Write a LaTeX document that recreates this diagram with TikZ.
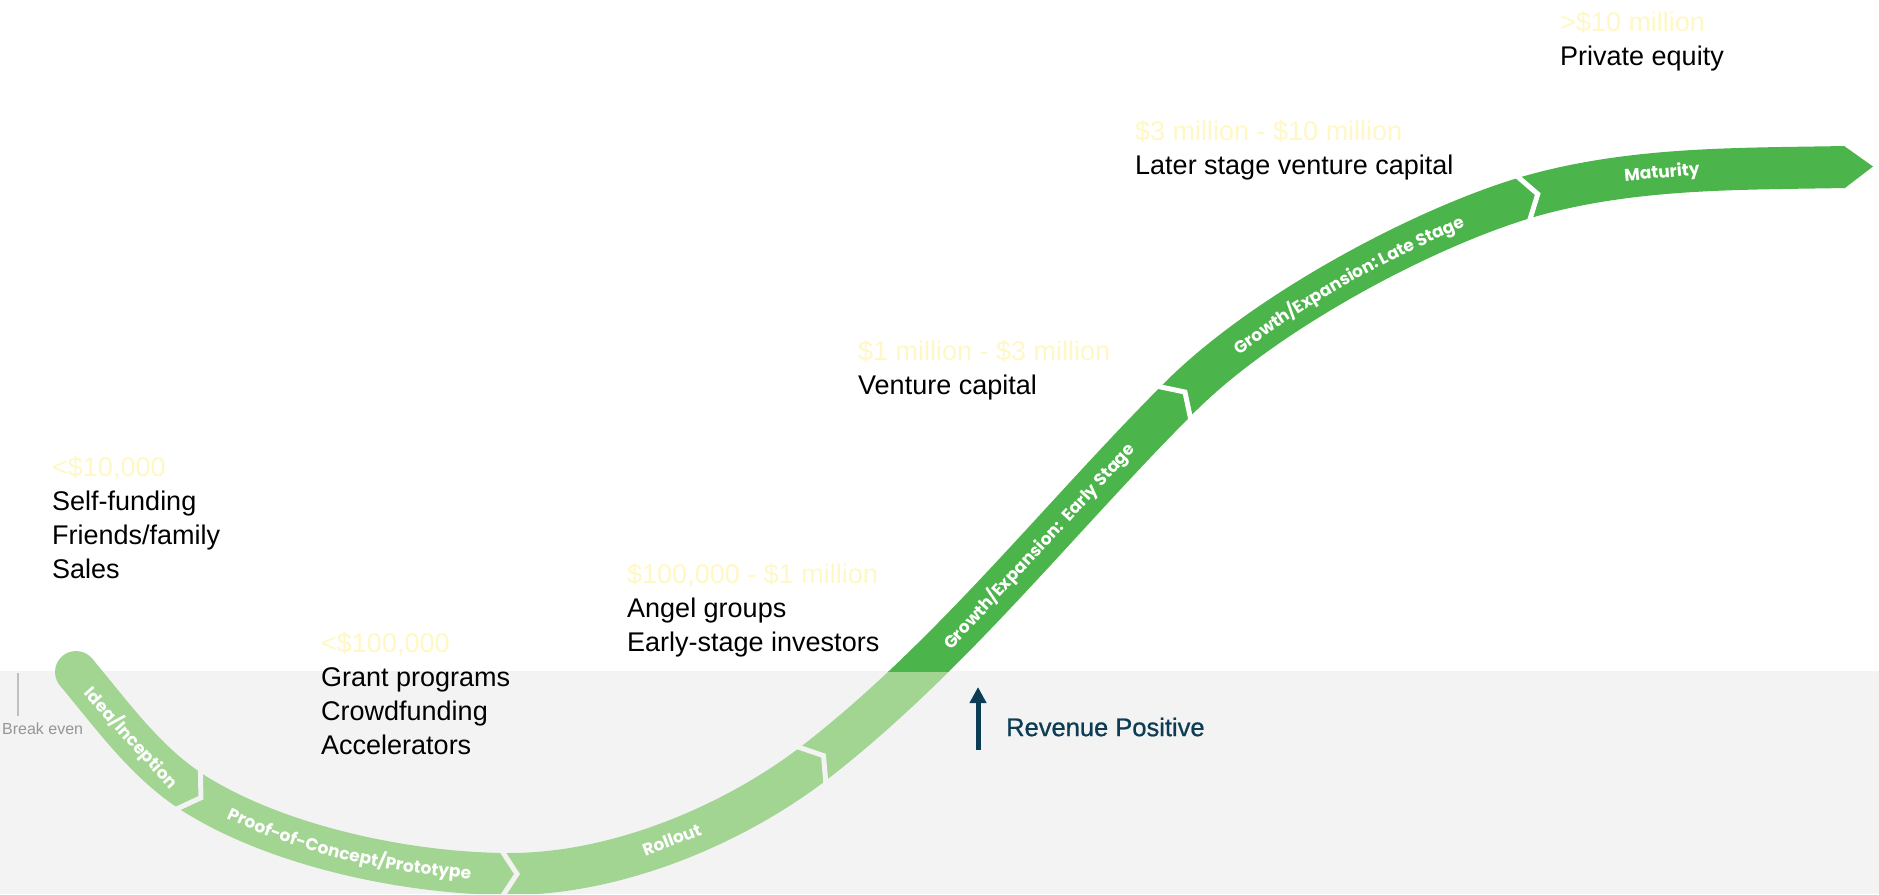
\documentclass[tikz,border=0pt]{standalone}
\usepackage{fontspec}
\setmainfont{Liberation Sans}
\newfontfamily\stagefont{Poppins}
\newfontfamily\rpfont{Liberation Sans}[FakeBold=0.8]
\usetikzlibrary{arrows.meta,decorations.text}
\definecolor{dkgreen}{RGB}{75,180,74}
\definecolor{ltgreen}{RGB}{162,212,146}
\definecolor{bandgray}{RGB}{243,243,243}
\definecolor{amount}{RGB}{255,248,196}
\definecolor{teal}{RGB}{12,61,84}
\definecolor{bkgray}{RGB}{150,150,150}
\tikzset{
  ribbonline/.style={line width=42pt},
  gapline/.style={line width=5pt, line join=miter},
  blocktext/.style={anchor=north west, inner sep=0pt, align=left, font=\fontsize{27}{34}\selectfont},
  stagelabel/.style={font=\stagefont\bfseries\fontsize{17}{17}\selectfont, text=white, inner sep=0pt},
}
\newcommand{\stagefmt}{\stagefont\bfseries\fontsize{17}{17}\selectfont\color{white}}
\newcommand{\amt}[1]{\textcolor{amount}{\rule{0pt}{22pt}#1}}
\begin{document}
\begin{tikzpicture}[x=1pt,y=-1pt]
\useasboundingbox (0,0) rectangle (1879,894);
\fill[white] (0,0) rectangle (1879,894);
\fill[bandgray] (0,671) rectangle (1879,894);

\coordinate (S) at (76,672);
\coordinate (J1) at (195,794);
\coordinate (J2) at (510,874);
\coordinate (J3) at (818,760);
\coordinate (J4) at (1180,397);
\coordinate (J5) at (1531,196);
\coordinate (E) at (1845,167);

% ribbon: light part
\begin{scope}
\clip (0,0) rectangle (700,894) (700,671) rectangle (1879,894);
\fill[ltgreen] (S) circle (21);
\draw[ribbonline, ltgreen] (S) .. controls (112.6,715.7) and (146.7,763.8) .. (J1)
  .. controls (279.8,847) and (410,874) .. (J2)
  .. controls (616,874) and (734.5,825.3) .. (J3)
  .. controls (952,655.3) and (1059.8,517.2) .. (J4)
  .. controls (1264.8,312.2) and (1425.3,226.4) .. (J5)
  .. controls (1634,167) and (1740,169) .. (E);
\end{scope}
% ribbon: dark part
\begin{scope}
\clip (700,0) rectangle (1879,671);
\draw[ribbonline, dkgreen] (S) .. controls (112.6,715.7) and (146.7,763.8) .. (J1)
  .. controls (279.8,847) and (410,874) .. (J2)
  .. controls (616,874) and (734.5,825.3) .. (J3)
  .. controls (952,655.3) and (1059.8,517.2) .. (J4)
  .. controls (1264.8,312.2) and (1425.3,226.4) .. (J5)
  .. controls (1634,167) and (1740,169) .. (E);
\end{scope}
\begin{scope}[shift={(E)}, rotate=1]
\fill[dkgreen] (-0.5,-21) -- (28,0) -- (-0.5,21) -- cycle;
\end{scope}

% chevron gaps
\begin{scope}[shift={(J1)}, rotate=-32]
\draw[gapline, bandgray] (-8,-23) -- (7,0) -- (-8,23);
\end{scope}
\begin{scope}[shift={(J2)}, rotate=0]
\draw[gapline, bandgray] (-8,-23) -- (7,0) -- (-8,23);
\end{scope}
\begin{scope}[shift={(J3)}, rotate=38]
\draw[gapline, bandgray] (-8,-23) -- (7,0) -- (-8,23);
\end{scope}
\begin{scope}[shift={(J4)}, rotate=45]
\draw[gapline, white] (-8,-23) -- (7,0) -- (-8,23);
\end{scope}
\begin{scope}[shift={(J5)}, rotate=16]
\draw[gapline, white] (-8,-23) -- (7,0) -- (-8,23);
\end{scope}

% stage labels
\path (S) .. controls (112.6,715.7) and (146.7,763.8) .. node[stagelabel, sloped, pos=0.5] (lidea) {Idea/Inception} (J1);
\path[decorate, decoration={text along path, text align=center, raise=-6pt,
  text={|\stagefmt|Proof-of-Concept/Prototype}}]
  (J1) .. controls (279.8,847) and (410,874) .. (J2);
\path (J2) .. controls (616,874) and (734.5,825.3) .. node[stagelabel, sloped, pos=0.5, yshift=2pt] (lroll) {Rollout} (J3);
\path (J3) .. controls (952,655.3) and (1059.8,517.2) .. node[stagelabel, sloped, pos=0.6] (learly) {Growth/Expansion:\ \ Early Stage} (J4);
\path[decorate, decoration={text along path, text align=center, raise=-7pt,
  text={|\stagefmt|Growth/Expansion: Late Stage}}]
  (J4) .. controls (1264.8,312.2) and (1425.3,226.4) .. (J5);
\path (J5) .. controls (1634,167) and (1740,169) .. node[stagelabel, sloped, pos=0.42] (lmat) {Maturity} (E);

% funding blocks
\node[blocktext] (b1) at (52,454.7) {\amt{<\$10,000}\\Self-funding\\Friends/family\\Sales};
\node[blocktext] (b2) at (321,630.7) {\amt{<\$100,000}\\Grant programs\\Crowdfunding\\Accelerators};
\node[blocktext] (b3) at (627,561.7) {\amt{\$100,000 - \$1 million}\\Angel groups\\Early-stage investors};
\node[blocktext] (b4) at (858,338.7) {\amt{\$1 million - \$3 million}\\Venture capital};
\node[blocktext] (b5) at (1135,118.3) {\amt{\$3 million - \$10 million}\\Later stage venture capital};
\node[blocktext] (b6) at (1560,9.3) {\amt{>\$10 million}\\Private equity};

% revenue positive
\coordinate (rpTail) at (978,750);
\coordinate (rpTip) at (978,687);
\draw[teal, line width=5pt, -{Triangle[length=16pt,width=16pt]}] (rpTail) -- (rpTip);
\node[anchor=west, inner sep=0pt, text=teal, font=\rpfont\fontsize{25.5}{30}\selectfont] (rp) at (1006,727) {Revenue Positive};

% break even
\coordinate (beTop) at (18,673);
\coordinate (beBot) at (18,716);
\draw[black!25, line width=1.5pt] (beTop) -- (beBot);
\node[anchor=west, inner sep=0pt, text=bkgray, font=\fontsize{16}{18}\selectfont] (be) at (2,729) {Break even};
\end{tikzpicture}
\end{document}
